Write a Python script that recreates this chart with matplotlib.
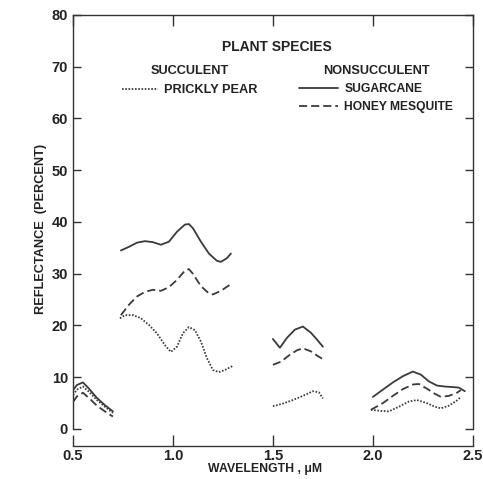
#Reflectance spectra of plant leaves, succulent vs nonsucculent

#Imports
import numpy as np
import matplotlib
matplotlib.use("Agg")
import matplotlib.pyplot as plt

plt.rcParams['font.family'] = ['Liberation Sans', 'DejaVu Sans']

#Data, one list per wavelength segment
wl_sugarcane = [
    [0.50, 0.52, 0.55, 0.58, 0.62, 0.66, 0.70],
    [0.74, 0.78, 0.82, 0.86, 0.90, 0.94, 0.98, 1.02, 1.06, 1.08, 1.10, 1.14, 1.18, 1.22, 1.24, 1.27, 1.29],
    [1.50, 1.535, 1.57, 1.61, 1.65, 1.69, 1.72, 1.75],
    [2.00, 2.05, 2.10, 2.15, 2.20, 2.24, 2.28, 2.32, 2.36, 2.40, 2.43, 2.46],
]
refl_sugarcane = [
    [7.5, 8.5, 9.0, 7.8, 6.0, 4.6, 3.4],
    [34.5, 35.2, 36.0, 36.3, 36.1, 35.6, 36.2, 38.1, 39.5, 39.6, 38.8, 36.2, 33.9, 32.5, 32.3, 33.0, 33.9],
    [17.4, 15.7, 17.6, 19.2, 19.8, 18.6, 17.3, 15.9],
    [6.2, 7.6, 9.0, 10.2, 11.1, 10.5, 9.2, 8.4, 8.2, 8.1, 8.0, 7.3],
]

wl_mesquite = [
    [0.50, 0.52, 0.55, 0.58, 0.62, 0.66, 0.70],
    [0.74, 0.78, 0.82, 0.86, 0.90, 0.94, 0.98, 1.02, 1.06, 1.08, 1.10, 1.14, 1.18, 1.20, 1.24, 1.29],
    [1.50, 1.54, 1.58, 1.62, 1.65, 1.69, 1.72, 1.75],
    [1.99, 2.05, 2.10, 2.15, 2.20, 2.23, 2.27, 2.31, 2.34, 2.38, 2.42, 2.44],
]
refl_mesquite = [
    [5.2, 6.3, 7.0, 6.0, 4.5, 3.4, 2.4],
    [22.0, 24.0, 25.6, 26.5, 26.9, 26.7, 27.4, 28.8, 30.6, 30.9, 30.0, 27.6, 26.2, 26.0, 26.7, 28.0],
    [12.4, 13.0, 14.2, 15.2, 15.6, 15.0, 14.2, 13.5],
    [3.7, 5.0, 6.4, 7.7, 8.6, 8.7, 7.8, 6.8, 6.2, 6.4, 7.0, 7.5],
]

wl_pear = [
    [0.50, 0.52, 0.55, 0.58, 0.62, 0.66, 0.70],
    [0.735, 0.76, 0.80, 0.84, 0.88, 0.92, 0.96, 0.99, 1.02, 1.05, 1.08, 1.11, 1.14, 1.17, 1.20, 1.23, 1.26, 1.30],
    [1.50, 1.55, 1.60, 1.65, 1.70, 1.73, 1.75],
    [1.99, 2.04, 2.08, 2.13, 2.18, 2.22, 2.27, 2.31, 2.34, 2.38, 2.42, 2.44],
]
refl_pear = [
    [6.6, 7.6, 8.2, 7.2, 5.6, 4.3, 3.1],
    [21.4, 22.0, 22.0, 21.4, 20.1, 18.5, 16.2, 14.9, 15.9, 18.5, 19.7, 19.1, 16.9, 13.7, 11.4, 11.0, 11.4, 12.2],
    [4.4, 4.9, 5.6, 6.4, 7.3, 7.1, 5.9],
    [3.7, 3.5, 3.4, 4.3, 5.3, 5.6, 5.0, 4.3, 4.0, 4.5, 5.5, 6.2],
]

x_ticks = [0.5, 1.0, 1.5, 2.0, 2.5]
x_tick_labels = ["0.5", "1.0", "1.5", "2.0", "2.5"]
y_ticks = [0, 10, 20, 30, 40, 50, 60, 70, 80]

LINE_COLOR = '#3a3a3a'
INK = '#222222'


def draw_species(ax, wl_segments, refl_segments, style, label):
    '''
Plots one species as separate segments (gaps are the water bands).
Returns the line handle of the first segment for the legend.
    '''
    handle = None
    for wl, refl in zip(wl_segments, refl_segments):
        line, = ax.plot(wl, refl, color=LINE_COLOR, lw=1.3, linestyle=style,
                        solid_capstyle='round')
        if handle is None:
            handle = line
    handle.set_label(label)
    return handle


fig = plt.figure(figsize=(4.83, 4.79), dpi=100)
ax = fig.add_axes([0.151, 0.1044, 0.828, 0.8643])

h_pear = draw_species(ax, wl_pear, refl_pear, (0, (0.9, 0.9)), "PRICKLY PEAR")
h_cane = draw_species(ax, wl_sugarcane, refl_sugarcane, '-', "SUGARCANE")
h_mesq = draw_species(ax, wl_mesquite, refl_mesquite, (0, (4.5, 2.2)), "HONEY MESQUITE")

ax.set_xlim(0.5, 2.5)
ax.set_ylim(0, 80)
ax.set_xticks(x_ticks)
ax.set_xticklabels(x_tick_labels)
ax.set_yticks(y_ticks)

#frame: bottom axis detached below the box
for side in ['left', 'right', 'top', 'bottom']:
    ax.spines[side].set_color('#333333')
    ax.spines[side].set_linewidth(1.0)
ax.spines['bottom'].set_position(('outward', 12.2))

ax.tick_params(axis='x', which='major', direction='in', length=8, width=1.0,
               color='#333333', top=True, pad=2.5, labelsize=10.5, labelcolor=INK)
ax.tick_params(axis='y', which='major', direction='in', length=6, width=1.0,
               color='#333333', right=True, pad=3.5, labelsize=10.5, labelcolor=INK)
for lbl in ax.get_xticklabels() + ax.get_yticklabels():
    lbl.set_fontweight('bold')

ax.set_xlabel("WAVELENGTH , μM", fontsize=8.8, fontweight='bold', color=INK)
ax.xaxis.set_label_coords(0.48, -0.083)
ax.set_ylabel("REFLECTANCE  (PERCENT)", fontsize=9.2, fontweight='bold', color=INK)
ax.yaxis.set_label_coords(-0.066, 0.483)

#legend block
ax.text(0.51, 0.923, "PLANT SPECIES", transform=ax.transAxes, ha='center',
        va='center', fontsize=10, fontweight='bold', color=INK)

leg1 = ax.legend(handles=[h_pear], title="SUCCULENT", loc='upper left',
                 bbox_to_anchor=(0.1225, 0.879), frameon=False, borderpad=0,
                 prop={'size': 9.2, 'weight': 'bold'},
                 title_fontproperties={'size': 9.2, 'weight': 'bold'},
                 handlelength=2.8, handletextpad=0.5, labelspacing=0.55,
                 borderaxespad=0)
ax.add_artist(leg1)
leg2 = ax.legend(handles=[h_cane, h_mesq], title="NONSUCCULENT", loc='upper left',
                 bbox_to_anchor=(0.565, 0.879), frameon=False, borderpad=0,
                 prop={'size': 8.7, 'weight': 'bold'},
                 title_fontproperties={'size': 9.2, 'weight': 'bold'},
                 handlelength=3.2, handletextpad=0.55, labelspacing=0.5,
                 borderaxespad=0)
for leg in [leg1, leg2]:
    for t in leg.get_texts():
        t.set_color(INK)
    leg.get_title().set_color(INK)

fig.savefig("out.png", dpi=100)
